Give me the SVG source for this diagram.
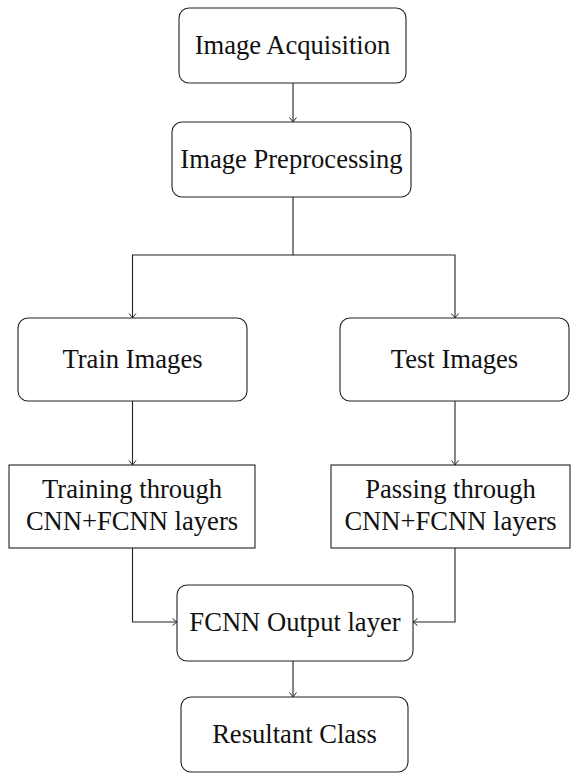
<svg xmlns="http://www.w3.org/2000/svg" width="571" height="774" viewBox="0 0 571 774">
<style>
.box{fill:#fff;stroke:#222;stroke-width:1.1}
.t{font-family:"Liberation Serif","Times New Roman",serif;font-size:26.6px;fill:#111;text-anchor:middle}
.c{fill:none;stroke:#222;stroke-width:1.1}
</style>
<defs>
<marker id="ah" markerWidth="10" markerHeight="10" refX="0" refY="0" viewBox="-6 -5 8 10" markerUnits="userSpaceOnUse" orient="auto">
<path d="M -4.5 -3.5 Q -1.2 -0.8 0 0 Q -1.2 0.8 -4.5 3.5" fill="none" stroke="#222" stroke-width="1"/>
</marker>
</defs>
<rect width="571" height="774" fill="#fff"/>
<g id="connectors">
<path class="c" d="M293 83 V122" marker-end="url(#ah)"/>
<path class="c" d="M293 197 V255 H132.5 V318" marker-end="url(#ah)"/>
<path class="c" d="M293 255 H455 V318" marker-end="url(#ah)"/>
<path class="c" d="M132.5 401 V465" marker-end="url(#ah)"/>
<path class="c" d="M455 401 V465" marker-end="url(#ah)"/>
<path class="c" d="M132.5 548 V622 H177" marker-end="url(#ah)"/>
<path class="c" d="M455 548 V622 H413" marker-end="url(#ah)"/>
<path class="c" d="M293 661 V697" marker-end="url(#ah)"/>
</g>
<g id="acquisition">
<rect class="box" x="179" y="8" width="227" height="75" rx="10"/>
<text class="t" x="292.5" y="53.5">Image Acquisition</text>
</g>
<g id="preprocessing">
<rect class="box" x="172" y="122" width="239" height="75" rx="10"/>
<text class="t" x="291.5" y="167.5">Image Preprocessing</text>
</g>
<g id="train">
<rect class="box" x="18" y="318" width="229" height="83" rx="10"/>
<text class="t" x="132.5" y="367.5">Train Images</text>
</g>
<g id="test">
<rect class="box" x="340" y="318" width="229" height="83" rx="10"/>
<text class="t" x="454.5" y="367.5">Test Images</text>
</g>
<g id="training">
<rect class="box" x="9" y="465" width="246" height="83"/>
<text class="t" x="132" y="497.5">Training through</text>
<text class="t" x="132" y="530">CNN+FCNN layers</text>
</g>
<g id="passing">
<rect class="box" x="331" y="465" width="239" height="83"/>
<text class="t" x="450.5" y="497.5">Passing through</text>
<text class="t" x="450.5" y="530">CNN+FCNN layers</text>
</g>
<g id="output">
<rect class="box" x="177" y="585" width="236" height="76" rx="10"/>
<text class="t" x="295" y="631">FCNN Output layer</text>
</g>
<g id="resultant">
<rect class="box" x="181" y="697" width="227" height="75" rx="10"/>
<text class="t" x="294.5" y="742.5">Resultant Class</text>
</g>
</svg>
